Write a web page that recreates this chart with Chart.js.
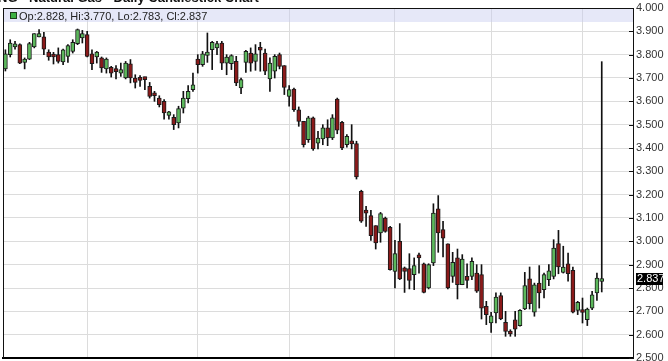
<!DOCTYPE html>
<html>
<head>
<meta charset="utf-8">
<script src="https://cdn.jsdelivr.net/npm/chart.js@4.4.1/dist/chart.umd.min.js"></script>
<style>
  html, body { margin: 0; padding: 0; background: #fff; overflow: hidden; }
  #wrap { position: relative; width: 668px; height: 361px; overflow: hidden; }
  #title { position: absolute; left: -2px; top: -9px; font: bold 13px "Liberation Sans", Arial, sans-serif; line-height: 13px; color: #111; white-space: nowrap; }
  #ohlc-box { position: absolute; left: 10px; top: 12px; width: 5px; height: 5px; background: #3cb043; border: 1px solid #1d3d1d; }
  #ohlc { position: absolute; left: 19px; top: 10px; font: 11px "Liberation Sans", Arial, sans-serif; line-height: 12px; color: #222; white-space: nowrap; }
</style>
</head>
<body>
<div id="wrap">
  <canvas id="chart" width="668" height="361"></canvas>
  <div id="title">NG - Natural Gas - Daily Candlestick Chart</div>
  <div id="ohlc-box"></div>
  <div id="ohlc"></div>
</div>
<script>
// daily candles
const opens = [
  3.739, 3.800, 3.833, 3.843, 3.767, 3.781, 3.833, 3.876, 3.876, 3.811,
  3.796, 3.800, 3.769, 3.793, 3.814, 3.847, 3.872, 3.886, 3.804, 3.790,
  3.786, 3.739, 3.746, 3.731, 3.721, 3.700, 3.761, 3.700, 3.697, 3.700,
  3.664, 3.633, 3.614, 3.600, 3.540, 3.531, 3.507, 3.571, 3.611, 3.650,
  3.781, 3.757, 3.797, 3.821, 3.829, 3.850, 3.764, 3.761, 3.771, 3.657,
  3.767, 3.807, 3.771, 3.824, 3.807, 3.696, 3.729, 3.800, 3.753, 3.621,
  3.653, 3.564, 3.514, 3.436, 3.529, 3.421, 3.439, 3.486, 3.443, 3.610,
  3.510, 3.414, 3.431, 3.419, 3.214, 3.125, 3.110, 3.067, 3.036, 3.100,
  3.060, 2.871, 3.000, 2.886, 2.883, 2.857, 2.933, 2.904, 2.800, 2.907,
  3.139, 3.050, 2.989, 2.850, 2.929, 2.814, 2.850, 2.850, 2.864, 2.857,
  2.721, 2.650, 2.693, 2.767, 2.653, 2.607, 2.664, 2.639, 2.710, 2.839,
  2.696, 2.821, 2.793, 2.836, 2.850, 2.990, 2.867, 2.904, 2.876, 2.704,
  2.698, 2.664, 2.714, 2.779, 2.828
];
const highs = [
  3.821, 3.864, 3.857, 3.846, 3.786, 3.853, 3.890, 3.907, 3.896, 3.821,
  3.810, 3.829, 3.824, 3.843, 3.864, 3.910, 3.904, 3.900, 3.821, 3.814,
  3.790, 3.786, 3.750, 3.753, 3.764, 3.771, 3.779, 3.714, 3.710, 3.704,
  3.681, 3.643, 3.624, 3.607, 3.557, 3.543, 3.579, 3.643, 3.667, 3.721,
  3.800, 3.814, 3.893, 3.857, 3.857, 3.857, 3.800, 3.800, 3.793, 3.700,
  3.819, 3.829, 3.843, 3.853, 3.824, 3.786, 3.800, 3.807, 3.753, 3.667,
  3.657, 3.576, 3.514, 3.536, 3.533, 3.471, 3.500, 3.521, 3.543, 3.614,
  3.514, 3.457, 3.500, 3.429, 3.219, 3.150, 3.133, 3.067, 3.124, 3.104,
  3.064, 3.004, 3.076, 2.890, 2.947, 2.929, 2.950, 2.907, 2.904, 3.161,
  3.196, 3.086, 2.989, 2.953, 2.967, 2.943, 2.904, 2.929, 2.900, 2.900,
  2.743, 2.696, 2.779, 2.779, 2.700, 2.621, 2.700, 2.707, 2.867, 2.890,
  2.821, 2.896, 2.864, 2.900, 3.007, 3.047, 2.979, 2.950, 2.890, 2.743,
  2.757, 2.714, 2.786, 2.864, 3.770
];
const lows = [
  3.730, 3.790, 3.824, 3.761, 3.739, 3.779, 3.829, 3.876, 3.800, 3.776,
  3.760, 3.764, 3.757, 3.767, 3.807, 3.843, 3.850, 3.790, 3.736, 3.764,
  3.724, 3.721, 3.704, 3.696, 3.707, 3.696, 3.679, 3.657, 3.664, 3.650,
  3.614, 3.600, 3.576, 3.524, 3.524, 3.479, 3.486, 3.550, 3.593, 3.643,
  3.721, 3.750, 3.767, 3.736, 3.800, 3.736, 3.714, 3.736, 3.667, 3.633,
  3.724, 3.729, 3.733, 3.729, 3.714, 3.643, 3.700, 3.739, 3.629, 3.579,
  3.557, 3.493, 3.404, 3.424, 3.390, 3.396, 3.414, 3.410, 3.436, 3.461,
  3.393, 3.404, 3.396, 3.267, 3.081, 3.064, 3.004, 2.967, 2.996, 3.039,
  2.876, 2.800, 2.836, 2.781, 2.796, 2.793, 2.864, 2.779, 2.796, 2.896,
  2.953, 2.933, 2.796, 2.824, 2.753, 2.814, 2.800, 2.836, 2.781, 2.667,
  2.643, 2.610, 2.650, 2.664, 2.593, 2.593, 2.593, 2.636, 2.707, 2.710,
  2.679, 2.714, 2.757, 2.810, 2.839, 2.861, 2.864, 2.829, 2.693, 2.686,
  2.650, 2.639, 2.707, 2.747, 2.783
];
const closes = [
  3.804, 3.850, 3.846, 3.764, 3.781, 3.847, 3.890, 3.890, 3.824, 3.790,
  3.790, 3.771, 3.821, 3.839, 3.853, 3.907, 3.890, 3.793, 3.761, 3.811,
  3.743, 3.781, 3.721, 3.727, 3.736, 3.764, 3.700, 3.681, 3.690, 3.693,
  3.621, 3.624, 3.586, 3.550, 3.555, 3.500, 3.569, 3.614, 3.643, 3.671,
  3.757, 3.804, 3.811, 3.853, 3.847, 3.764, 3.790, 3.796, 3.679, 3.693,
  3.814, 3.764, 3.804, 3.819, 3.729, 3.764, 3.793, 3.750, 3.660, 3.650,
  3.564, 3.514, 3.414, 3.529, 3.396, 3.443, 3.486, 3.443, 3.529, 3.476,
  3.400, 3.450, 3.417, 3.276, 3.086, 3.121, 3.024, 2.993, 3.119, 3.043,
  2.879, 2.947, 2.839, 2.871, 2.833, 2.896, 2.929, 2.781, 2.900, 3.121,
  3.036, 3.014, 2.800, 2.910, 2.814, 2.924, 2.833, 2.914, 2.786, 2.714,
  2.686, 2.681, 2.761, 2.667, 2.614, 2.603, 2.624, 2.704, 2.810, 2.733,
  2.814, 2.779, 2.857, 2.874, 2.971, 2.890, 2.890, 2.861, 2.696, 2.739,
  2.695, 2.710, 2.771, 2.843, 2.837
];
// candle index of the first session of each month (vertical grid lines)
const monthStarts = [17, 40, 59, 81, 101, 120];
const emptySlots = 6;
const yMin = 2.5;
const yMax = 4.0;
const yStep = 0.1;

const upColor = '#5cb85c';
const downColor = '#8b1a1a';

const slotLabels = Array.from({ length: opens.length + emptySlots }, (_, i) => String(i));
const bodies = opens.map((o, i) => [o, closes[i]]);
const wicks = lows.map((l, i) => [l, highs[i]]);
const bodyColors = opens.map((o, i) => closes[i] >= o ? upColor : downColor);

const last = opens.length - 1;
document.getElementById('ohlc').textContent =
  `Op:${opens[last].toFixed(3)}, Hi:${highs[last].toFixed(3)}, Lo:${lows[last].toFixed(3)}, Cl:${closes[last].toFixed(3)}`;

const frame = {
  id: 'frame',
  beforeDatasetsDraw(chart) {
    const { ctx, chartArea: a } = chart;
    ctx.save();
    ctx.fillStyle = 'rgba(200, 205, 240, 0.45)';
    ctx.fillRect(a.left, a.top, a.right - a.left, 14);
    ctx.restore();
  },
  afterDraw(chart) {
    const { ctx, chartArea: a } = chart;
    const y = chart.scales.y;
    ctx.save();
    ctx.strokeStyle = '#111';
    ctx.lineWidth = 1;
    ctx.beginPath();
    ctx.moveTo(a.left + 0.5, a.top);
    ctx.lineTo(a.left + 0.5, a.bottom);
    ctx.moveTo(a.left, a.top + 0.5);
    ctx.lineTo(a.right, a.top + 0.5);
    // small ticks pointing into the plot
    y.ticks.forEach(t => {
      const py = Math.round(y.getPixelForValue(t.value)) + 0.5;
      ctx.moveTo(a.right - 4, py);
      ctx.lineTo(a.right, py);
    });
    ctx.stroke();

    // last close marker
    const c = closes[last];
    const py = y.getPixelForValue(c);
    ctx.fillStyle = '#000';
    ctx.fillRect(a.right + 3, Math.round(py) - 6, 27, 12);
    ctx.fillStyle = '#fff';
    ctx.font = '11px "Liberation Sans", Arial, sans-serif';
    ctx.textBaseline = 'middle';
    ctx.fillText(c.toFixed(3), a.right + 4, Math.round(py));
    ctx.restore();
  }
};

const ctx = document.getElementById('chart').getContext('2d');
const chart = new Chart(ctx, {
  type: 'bar',
  data: {
    labels: slotLabels,
    datasets: [
      {
        label: 'Body',
        data: bodies,
        backgroundColor: bodyColors,
        borderColor: '#1a1a1a',
        borderWidth: 1,
        borderSkipped: false,
        barThickness: 4,
        minBarLength: 3,
        grouped: false
      },
      {
        label: 'Wick',
        data: wicks,
        backgroundColor: '#111',
        barThickness: 1,
        grouped: false
      }
    ]
  },
  options: {
    responsive: false,
    devicePixelRatio: 1,
    animation: false,
    layout: { padding: { left: 3, top: 8, right: 0, bottom: 3 } },
    plugins: {
      legend: { display: false },
      tooltip: { enabled: false }
    },
    scales: {
      x: {
        offset: true,
        ticks: { display: false, autoSkip: false },
        grid: {
          offset: false,
          drawTicks: false,
          color: c => monthStarts.includes(c.index) ? '#dcdcdc' : 'rgba(0,0,0,0)'
        },
        border: { display: true, color: '#000', width: 2 }
      },
      y: {
        position: 'right',
        min: yMin,
        max: yMax,
        ticks: {
          stepSize: yStep,
          maxTicksLimit: 20,
          padding: 3,
          color: '#333',
          font: { family: '"Liberation Sans", Arial, sans-serif', size: 11 },
          callback: v => Number(v).toFixed(3)
        },
        grid: { color: '#dcdcdc', drawTicks: false },
        border: { display: true, color: '#111', width: 1 },
        afterFit: s => { s.width = 35; s.paddingTop = 0; s.paddingBottom = 0; }
      }
    }
  },
  plugins: [frame]
});
</script>
</body>
</html>
